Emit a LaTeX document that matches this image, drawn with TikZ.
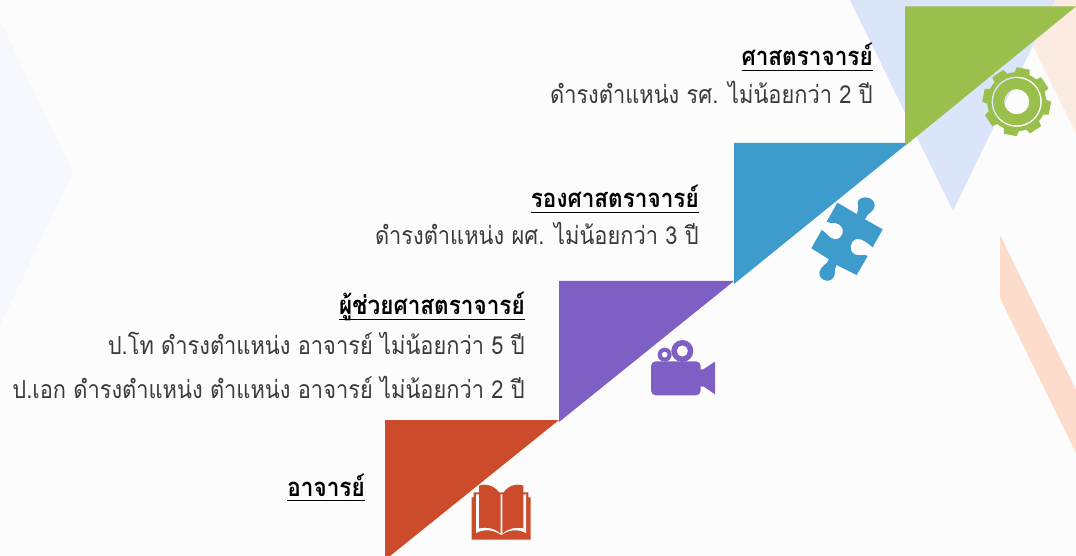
\documentclass[tikz,border=0pt]{standalone}
\usepackage{fontspec}
\setmainfont[Script=Thai,FakeStretch=0.88]{Loma}
\newcommand\headul[1]{\setbox0\hbox{\bfseries #1}\rlap{\rule[-4.1pt]{\wd0}{1.3pt}}\box0}
\definecolor{pagebg}{HTML}{FCFCFC}
\definecolor{leftbg}{HTML}{F7F8FD}
\definecolor{bluebg}{HTML}{DAE5FA}
\definecolor{peachA}{HTML}{FCEBE0}
\definecolor{peachB}{HTML}{FDDCCB}
\definecolor{cgreen}{HTML}{9ABF4C}
\definecolor{cblue}{HTML}{3E9CCD}
\definecolor{cpurple}{HTML}{7E60C5}
\definecolor{cred}{HTML}{CB4B2A}
\definecolor{bodytext}{HTML}{3A3A3A}
\tikzset{
  head/.style={anchor=base east,inner sep=0pt,text=black,font=\fontsize{19.2}{22}\selectfont},
  body/.style={anchor=base east,inner sep=0pt,text=bodytext,font=\fontsize{18.6}{22}\selectfont},
  zoomed/.style={x=0.25pt,y=-0.25pt}
}
\begin{document}
\begin{tikzpicture}[x=0.75pt,y=-0.75pt]
\useasboundingbox (0,0) rectangle (1076,556);
\clip (0,0) rectangle (1076,556);
\fill[pagebg] (0,0) rectangle (1076,556);
% background shapes
\fill[leftbg] (0,20) -- (73,173) -- (0,325) -- cycle;
\fill[peachA] (1010,0) -- (1076,0) -- (1076,133) -- cycle;
\fill[bluebg] (850,0) -- (1055,0) -- (953,211) -- cycle;
\fill[peachB] (1000,235) -- (1076,390) -- (1076,453) -- (1000,298) -- cycle;
% steps
\fill[cred] (385,420) -- (559,420) -- (385,560) -- cycle;
\fill[cpurple] (559,281) -- (734,281) -- (559,422) -- cycle;
\fill[cblue] (734,143) -- (908,143) -- (734,284) -- cycle;
\fill[cgreen] (905,6.5) -- (1076,6.5) -- (905,146) -- cycle;
% gear
\begin{scope}[shift={(1016.7,101.7)}]
\fill[cgreen,even odd rule]
  (-101.5:29.5) \foreach \a in {-79,-34,11,56,101,146,191,236}{
    -- (\a-15:29.5) -- (\a-11:34.5) -- (\a+11:34.5) -- (\a+15:29.5) -- (\a+22.5:29.5)
  } -- cycle
  (0,0) circle[radius=25.2]
  (0,0) circle[radius=23.6]
  (0,0) circle[radius=12.6];
\end{scope}
% puzzle piece
\begin{scope}[shift={(720,140)},zoomed]
\fill[cblue] (352,188) -- (410,222)
  .. controls (420,205) and (410,190) .. (415,182)
  .. controls (425,165) and (465,170) .. (464,198)
  .. controls (463,215) and (445,215) .. (435,238)
  -- (488,268) -- (458,322)
  .. controls (445,312) and (430,295) .. (410,297)
  .. controls (388,302) and (385,335) .. (405,343)
  .. controls (420,350) and (432,340) .. (443,348)
  -- (410,405) -- (350,375)
  .. controls (340,385) and (352,405) .. (335,418)
  .. controls (318,430) and (295,415) .. (298,397)
  .. controls (302,378) and (320,375) .. (327,358)
  -- (274,325) -- (305,270)
  .. controls (318,275) and (325,295) .. (345,298)
  .. controls (368,298) and (378,268) .. (358,254)
  .. controls (345,245) and (330,252) .. (320,245)
  -- cycle;
\end{scope}
% camera
\begin{scope}[shift={(550,280)},zoomed]
\fill[cpurple,rounded corners=3.5pt] (303,244) rectangle (452,346);
\fill[cpurple] (448,268) -- (460,268) -- (495,245) -- (495,343) -- (462,320) -- (448,320) -- cycle;
\fill[cpurple,even odd rule] (397,213) circle[radius=33] (397,213) circle[radius=17];
\fill[cpurple,even odd rule] (344,224) circle[radius=21] (344,224) circle[radius=9];
\end{scope}
% book
\begin{scope}[shift={(380,415)},zoomed]
\fill[cred] (275,247) -- (281,247) -- (281,232) -- (445,232) -- (445,247) -- (452,247) -- (452,374) -- (275,374) -- cycle;
\fill[pagebg] (288,238) -- (438,238) -- (438,354)
  .. controls (410,340) and (385,345) .. (364,360)
  .. controls (342,345) and (315,340) .. (288,354) -- cycle;
\fill[cred] (297,212) .. controls (320,203) and (350,215) .. (362,240)
  -- (362,356) .. controls (345,340) and (320,335) .. (297,340) -- cycle;
\fill[cred] (430,212) .. controls (407,203) and (377,215) .. (367,240)
  -- (367,356) .. controls (384,340) and (409,335) .. (430,340) -- cycle;
\end{scope}
% text
\node[head] (h1) at (873,66) {\headul{ศาสตราจารย์}};
\node[body] (b1) at (873,104) {ดำรงตำแหน่ง รศ. ไม่น้อยกว่า 2 ปี};
\node[head] (h2) at (699,208) {\headul{รองศาสตราจารย์}};
\node[body] (b2) at (699,245) {ดำรงตำแหน่ง ผศ. ไม่น้อยกว่า 3 ปี};
\node[head] (h3) at (525,315) {\headul{ผู้ช่วยศาสตราจารย์}};
\node[body] (b3) at (525,354) {ป.โท ดำรงตำแหน่ง อาจารย์ ไม่น้อยกว่า 5 ปี};
\node[body] (b4) at (525,398) {ป.เอก ดำรงตำแหน่ง ตำแหน่ง อาจารย์ ไม่น้อยกว่า 2 ปี};
\node[head] (h4) at (365,496) {\headul{อาจารย์}};
\end{tikzpicture}
\end{document}
